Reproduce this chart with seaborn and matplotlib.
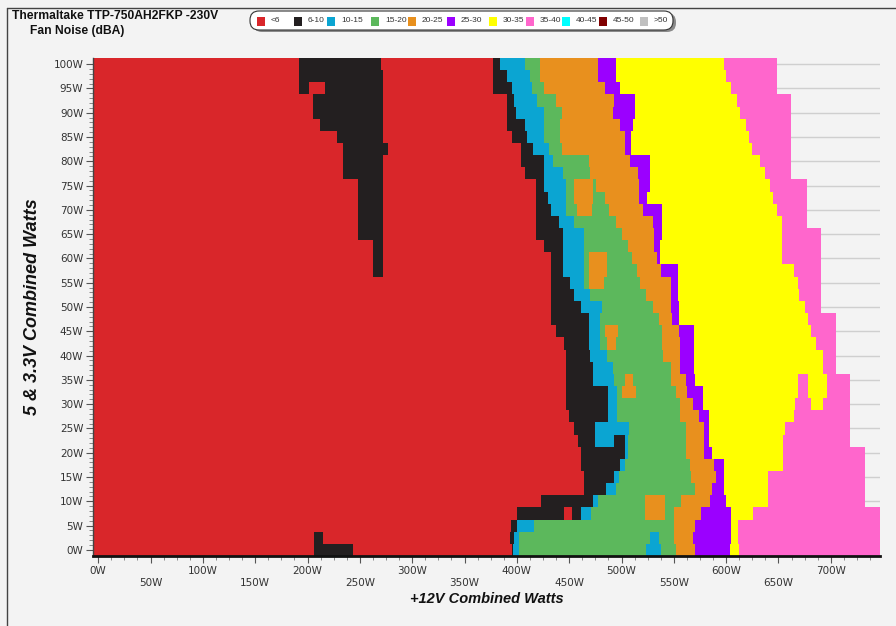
import numpy as np
import matplotlib
matplotlib.use("Agg")
import matplotlib.pyplot as plt
from matplotlib.colors import ListedColormap
from matplotlib.patches import FancyBboxPatch, Rectangle
from matplotlib.lines import Line2D
from matplotlib.transforms import IdentityTransform
import seaborn as sns

# noise bands (dBA) and their colours
noise_bands = ["<6", "6-10", "10-15", "15-20", "20-25", "25-30",
               "30-35", "35-40", "40-45", "45-50", ">50"]
band_colors = ["#d9262a", "#231f20", "#0ba5d2", "#5cb85c", "#e8901e", "#9b00ff",
               "#ffff00", "#ff66cc", "#00ffff", "#800000", "#c0c0c0"]

# 5 & 3.3V load rows (W), top to bottom
watts_5v = [100, 97.5, 95, 92.5, 90, 87.5, 85, 82.5, 80, 77.5, 75, 72.5, 70, 67.5,
            65, 62.5, 60, 57.5, 55, 52.5, 50, 47.5, 45, 42.5, 40, 37.5, 35, 32.5,
            30, 27.5, 25, 22.5, 20, 17.5, 15, 12.5, 10, 7.5, 5, 2.5, 0]

# +12V watts where each band ends, per row
red_end = [376.7, 376.7, 376.7, 391, 391, 391, 395, 404, 404, 407.7, 418, 418, 418, 418,
           418, 426, 432.6, 432.6, 432.6, 432.6, 432.6, 432.6, 437, 445, 447.2, 447.2, 447.2, 447.2,
           447.2, 449.8, 455, 458, 461, 461, 464.3, 464.3, 422.8, 400.4, 394, 393.4, 395]
black_end = [384, 391, 395, 397.5, 398.6, 407.7, 410, 415, 426, 426, 426, 430, 433.3, 440,
             443.6, 443.6, 443.6, 443.6, 451, 455.3, 461, 469, 469.2, 469.2, 470, 473.5, 473.5, 487.4,
             487.4, 487.4, 475.5, 475.5, 502.6, 499.4, 493, 485, 473, 461, 400.4, 397, 396]
blue_end = [407.7, 413, 414, 418.7, 426, 426, 426, 431.5, 435.2, 444.3, 447.2, 447.2, 447.2, 455.3,
            464.4, 464.4, 464.4, 464.4, 464.4, 470, 481, 479, 479, 479, 486, 492, 493, 496,
            496, 496, 507.4, 506, 505.8, 502.6, 497.8, 495, 478, 470.7, 416.4, 402, 402]
green_end = [422.4, 422.4, 426, 437, 443, 441, 441, 443, 469, 470, 476, 484, 488, 495.5,
             500, 506, 510, 515, 518, 523, 530, 535.7, 539.4, 539.4, 540, 546.7, 546.7, 552,
             555.8, 556, 561.7, 561.7, 561.7, 565, 566, 570, 557, 550.5, 550.5, 550.5, 552]
orange_end = [478, 478, 484.5, 493, 492, 499, 502.8, 503, 508, 515.6, 516.7, 517, 521, 530,
              531, 531, 534, 538, 546.7, 547, 547.4, 548, 555, 556, 556, 556, 562, 563,
              568, 574, 579.2, 579.2, 579.2, 588, 590, 585.6, 585, 576, 570, 568, 570]
purple_end = [495.5, 495.5, 499, 513, 513, 511, 509.4, 509.4, 526.6, 526.6, 526.6, 524, 539.4, 539.4,
              539.4, 537.5, 537.5, 554, 554, 554, 554.7, 554.7, 568.6, 568.6, 568.6, 568.6, 570, 577.7,
              578, 584, 584, 584, 586, 598, 598, 598, 600, 604.8, 604.8, 604.8, 604]
yellow_end = [597.8, 600, 604.8, 609.6, 612.8, 619.2, 622.4, 625, 632, 636.7, 642, 644.7, 649.5, 652.7,
              652.7, 653.3, 653.3, 665.5, 668.7, 670, 675, 678.3, 681.4, 686.2, 692.6, 692.6, 668.7, 668.7,
              666, 665.5, 656, 654.3, 654.3, 654.3, 640, 640, 640, 625.6, 611, 611, 612.5]
pink_end = [649, 649, 649, 662, 662, 662, 662, 662, 662, 662, 677, 677, 677, 677,
            691, 691, 691, 691, 691, 691, 691, 705, 705, 705, 705, 705, 718, 718,
            718, 718, 718, 718, 733, 733, 733, 733, 733, 747, 747, 747, 747]

# patches that sit inside another band: row, from W, to W, band index
island_row = [100, 97.5, 95, 95, 92.5, 90, 87.5, 85, 82.5, 80, 77.5, 75, 72.5, 70, 67.5, 65,
              62.5, 60, 57.5, 2.5, 0,
              75, 72.5, 70, 60, 57.5, 55, 45, 42.5, 35, 32.5, 10, 7.5,
              22.5, 7.5, 2.5, 0, 35, 32.5, 30]
island_lo = [192, 192, 192, 217, 205.4, 205.4, 212, 228, 234, 234, 234, 248.4, 248.4, 248.4, 248.4, 248.4,
             262.7, 262.7, 262.7, 206, 206,
             455, 455, 457, 469, 469, 469, 484.5, 486, 503, 500, 522, 522,
             493, 445, 527, 523, 678.3, 678.3, 681.4]
island_hi = [270, 272, 200.6, 272, 272, 272, 272, 272, 277, 272, 272, 272, 272, 272, 272, 272,
             272, 272, 272, 215, 242.6,
             473.5, 473.5, 472, 486, 486, 483, 497, 495, 511, 514, 542, 542,
             502.6, 453, 536, 538, 695.8, 695.8, 692.6]
island_band = [1] * 21 + [4] * 12 + [1, 0, 2, 2, 6, 6, 6]

x_lo, x_hi = -5, 747
centers = np.arange(x_lo, x_hi) + 0.5
bounds = np.array([red_end, black_end, blue_end, green_end,
                   orange_end, purple_end, yellow_end, pink_end]).T
grid = (centers[None, :, None] >= bounds[:, None, :]).sum(axis=2).astype(float)
grid[grid == 8] = np.nan
for w, lo, hi, band in zip(island_row, island_lo, island_hi, island_band):
    r = watts_5v.index(w)
    grid[r, (centers >= lo) & (centers < hi)] = band

bg = "#f3f3f3"
sns.set_theme(style="white")
plt.rcParams["font.family"] = ["DejaVu Sans"]

fig = plt.figure(figsize=(8.96, 6.26), dpi=100, facecolor=bg)
ax = fig.add_axes([93 / 896, 1 - 556 / 626, (880 - 93) / 896, (556 - 58) / 626])
ax.set_facecolor(bg)

sns.heatmap(grid, cmap=ListedColormap(band_colors), vmin=-0.5, vmax=10.5,
            cbar=False, ax=ax, xticklabels=False, yticklabels=False)


def xp(w):
    return w - x_lo


def yp(w):
    return (100 - w) / 2.5 + 0.5


ax.set_xlim(0, x_hi - x_lo)
ax.set_ylim(len(watts_5v), 0)

yt = list(range(0, 101, 5))
ax.set_yticks([yp(w) for w in yt])
ax.set_yticklabels([f"{w}W" for w in yt], fontsize=7.5, color="#333333")
ax.set_yticks([yp(w) for w in range(0, 101)], minor=True)
xt = list(range(0, 701, 50))
ax.set_xticks([xp(w) for w in xt])
ax.set_xticklabels([f"{w}W" if w % 100 == 0 else f"\n{w}W" for w in xt],
                   fontsize=7.5, color="#333333", linespacing=1.25)
ax.set_xticks([xp(w) for w in np.arange(0, 746, 12.5)], minor=True)
ax.tick_params(axis="both", which="major", length=5, width=0.8, color="#555555",
               left=True, bottom=True, pad=2)
ax.tick_params(axis="both", which="minor", length=3, width=0.6, color="#777777",
               left=True, bottom=True)
ax.tick_params(axis="x", labelrotation=0)
ax.tick_params(axis="y", labelrotation=0)

ax.set_axisbelow(True)
ax.grid(axis="y", which="major", color="#cfcfcf", lw=1)
for side in ["top", "right"]:
    ax.spines[side].set_visible(False)
ax.spines["left"].set_visible(True)
ax.spines["left"].set_color("#444444")
ax.spines["left"].set_linewidth(1)
ax.spines["bottom"].set_visible(True)
ax.spines["bottom"].set_color("#111111")
ax.spines["bottom"].set_linewidth(2)

ax.set_xlabel("+12V Combined Watts", fontsize=10.5, fontweight="bold", style="italic",
              family="Liberation Sans", color="#111111", labelpad=3)
ax.set_ylabel("5 & 3.3V Combined Watts", fontsize=13, fontweight="bold", style="italic",
              family="Liberation Sans", color="#111111", labelpad=9)

fig.text(12 / 896, 1 - 16 / 626, "Thermaltake TTP-750AH2FKP -230V", fontsize=8.7,
         fontweight="bold", family="Liberation Sans", color="#111111", va="center")
fig.text(30 / 896, 1 - 31 / 626, "Fan Noise (dBA)", fontsize=8.7,
         fontweight="bold", family="Liberation Sans", color="#111111", va="center")

# legend box
H = 626
ident = IdentityTransform()
fig.patches.append(FancyBboxPatch((253, H - 32), 423, 19, boxstyle="round,pad=0,rounding_size=9",
                                  transform=ident, facecolor="#8a8a8a", edgecolor="none"))
fig.patches.append(FancyBboxPatch((250, H - 30), 423, 19, boxstyle="round,pad=0,rounding_size=9",
                                  transform=ident, facecolor="white", edgecolor="#333333", lw=0.8))
sq_x = [257, 294, 327, 371, 408, 447, 489, 526, 562, 599, 640]
for x0, lab, col in zip(sq_x, noise_bands, band_colors):
    fig.patches.append(Rectangle((x0, H - 25.5), 8, 9, transform=ident,
                                 facecolor=col, edgecolor="none"))
    fig.text((x0 + 14) / 896, 1 - 21 / 626, lab, fontsize=6, color="#333333",
             va="center", family="Liberation Sans")

# outer frame
fig.lines.append(Line2D([7, 896], [H - 8, H - 8], transform=ident, color="#444444", lw=1))
fig.lines.append(Line2D([7, 7], [0, H - 8], transform=ident, color="#444444", lw=1))

fig.savefig("out.png", dpi=100, facecolor=bg)
